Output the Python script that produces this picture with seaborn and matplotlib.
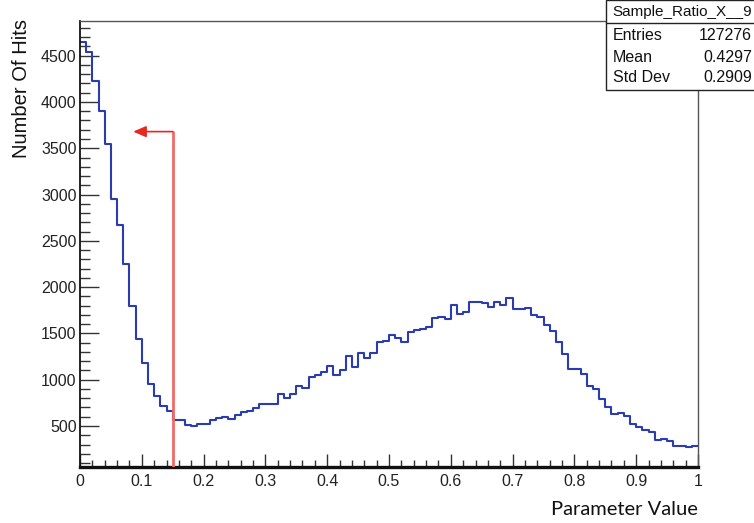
import numpy as np
import pandas as pd
import matplotlib
matplotlib.use("Agg")
import matplotlib.pyplot as plt
import seaborn as sns
from matplotlib.ticker import MultipleLocator
from matplotlib.lines import Line2D
from matplotlib.patches import Rectangle

# ---------------- data ----------------
n_bins = 100
x_range = (0.0, 1.0)
counts = [
    4644, 4536, 4229, 3899, 3546, 2955, 2674, 2246, 1799, 1440,
    1180, 954, 824, 716, 659, 565, 565, 514, 497, 525,
    525, 568, 583, 594, 576, 619, 648, 662, 698, 741,
    741, 741, 849, 806, 849, 929, 914, 1032, 1048, 1086,
    1145, 1048, 1105, 1251, 1140, 1292, 1234, 1292, 1404, 1415,
    1480, 1450, 1410, 1518, 1533, 1548, 1572, 1666, 1680, 1652,
    1803, 1706, 1731, 1839, 1839, 1825, 1785, 1839, 1810, 1879,
    1769, 1760, 1774, 1699, 1680, 1588, 1529, 1410, 1278, 1116,
    1116, 1058, 929, 903, 788, 708, 633, 644, 608, 525,
    486, 457, 432, 349, 363, 335, 287, 287, 273, 287,
]
x_ticks = [0, 0.1, 0.2, 0.3, 0.4, 0.5, 0.6, 0.7, 0.8, 0.9, 1]
x_tick_labels = ["0", "0.1", "0.2", "0.3", "0.4", "0.5", "0.6", "0.7", "0.8", "0.9", "1"]
y_ticks = [500, 1000, 1500, 2000, 2500, 3000, 3500, 4000, 4500]
y_tick_labels = [str(v) for v in y_ticks]
stats_title = "Sample_Ratio_X__9"
stats_names = ["Entries", "Mean", "Std Dev"]
stats_values = ["127276", "0.4297", "0.2909"]
cut_x = 0.15
cut_y = 3680
arrow_tip_x = 0.086
x_title = "Parameter Value"
y_title = "Number Of Hits"

edges = np.linspace(x_range[0], x_range[1], n_bins + 1)
centers = 0.5 * (edges[:-1] + edges[1:])
df = pd.DataFrame({"value": centers, "hits": counts})

# ---------------- figure ----------------
sns.set_theme(style="white")
plt.rcParams["font.family"] = ["Liberation Sans", "DejaVu Sans"]

W, H = 754, 523
fig = plt.figure(figsize=(W / 100, H / 100), dpi=100)
ax = fig.add_axes([80 / W, 1 - 467.3 / H, (698 - 80) / W, (467.3 - 20.7) / H])

sns.histplot(data=df, x="value", weights="hits", bins=n_bins, binrange=x_range,
             element="step", fill=False, color="#2b3cb0", linewidth=1.5, ax=ax)

ax.set_xlim(0, 1)
ax.set_ylim(54, 4878)

# red cut line and arrow
ax.plot([cut_x, cut_x], [54, cut_y], color="#f06a66", lw=2.0, zorder=3)
ax.annotate("", xy=(arrow_tip_x, cut_y), xytext=(cut_x, cut_y),
            arrowprops=dict(arrowstyle="-|>,head_length=0.65,head_width=0.28",
                            color="#e8281e", lw=1.2, shrinkA=0, shrinkB=0),
            zorder=3)

# ticks
ax.set_xticks(x_ticks)
ax.set_xticklabels(x_tick_labels)
ax.set_yticks(y_ticks)
ax.set_yticklabels(y_tick_labels)
ax.xaxis.set_minor_locator(MultipleLocator(0.02))
ax.yaxis.set_minor_locator(MultipleLocator(100))
ax.tick_params(axis="both", which="both", direction="in", colors="#333333",
               labelcolor="#222222", width=1.0)
ax.tick_params(axis="y", which="major", length=13.5, pad=2.5, labelsize=11.5,
               left=True, right=False)
ax.tick_params(axis="y", which="minor", length=7.2, left=True, right=False)
ax.tick_params(axis="x", which="major", length=9.4, pad=5, labelsize=11.5,
               bottom=True, top=False)
ax.tick_params(axis="x", which="minor", length=5, bottom=True, top=False)

ax.set_xlabel("")
ax.set_ylabel("")

for side in ["top", "right"]:
    ax.spines[side].set_color("#555555")
    ax.spines[side].set_linewidth(1.0)
ax.spines["left"].set_color("#111111")
ax.spines["left"].set_linewidth(1.3)
ax.spines["bottom"].set_color("#111111")
ax.spines["bottom"].set_linewidth(2.4)

# axis titles
fig.text(22 / W, 1 - 19 / H, y_title, rotation=90, ha="center", va="top",
         fontsize=14.5, color="#111111", family=["Liberation Sans", "DejaVu Sans"])
fig.text(698 / W, 1 - 515 / H, x_title, ha="right", va="baseline",
         fontsize=14.5, color="#111111", family=["Lato", "DejaVu Sans"])

# stats box
bx0, by_top, by_sep, by_bot = 605.7, 0.5, 22.7, 90
fig.add_artist(Rectangle((bx0 / W, 1 - by_bot / H), (W + 5 - bx0) / W,
                         (by_bot - by_top) / H, transform=fig.transFigure,
                         facecolor="white", edgecolor="#222222", lw=1.0,
                         zorder=10, clip_on=False))
fig.add_artist(Line2D([bx0 / W, 1.01], [1 - by_sep / H, 1 - by_sep / H],
                      transform=fig.transFigure, color="#222222", lw=1.0,
                      zorder=11))
fig.text(612 / W, 1 - 12 / H, stats_title, ha="left", va="center",
         fontsize=11, color="#111111", zorder=12)
row_y = [35, 57, 78]
for name, val, yy in zip(stats_names, stats_values, row_y):
    fig.text(613 / W, 1 - yy / H, name, ha="left", va="center",
             fontsize=11.5, color="#111111", zorder=12)
    fig.text(752 / W, 1 - yy / H, val, ha="right", va="center",
             fontsize=11.5, color="#111111", zorder=12)

fig.savefig("out.png", dpi=100)
